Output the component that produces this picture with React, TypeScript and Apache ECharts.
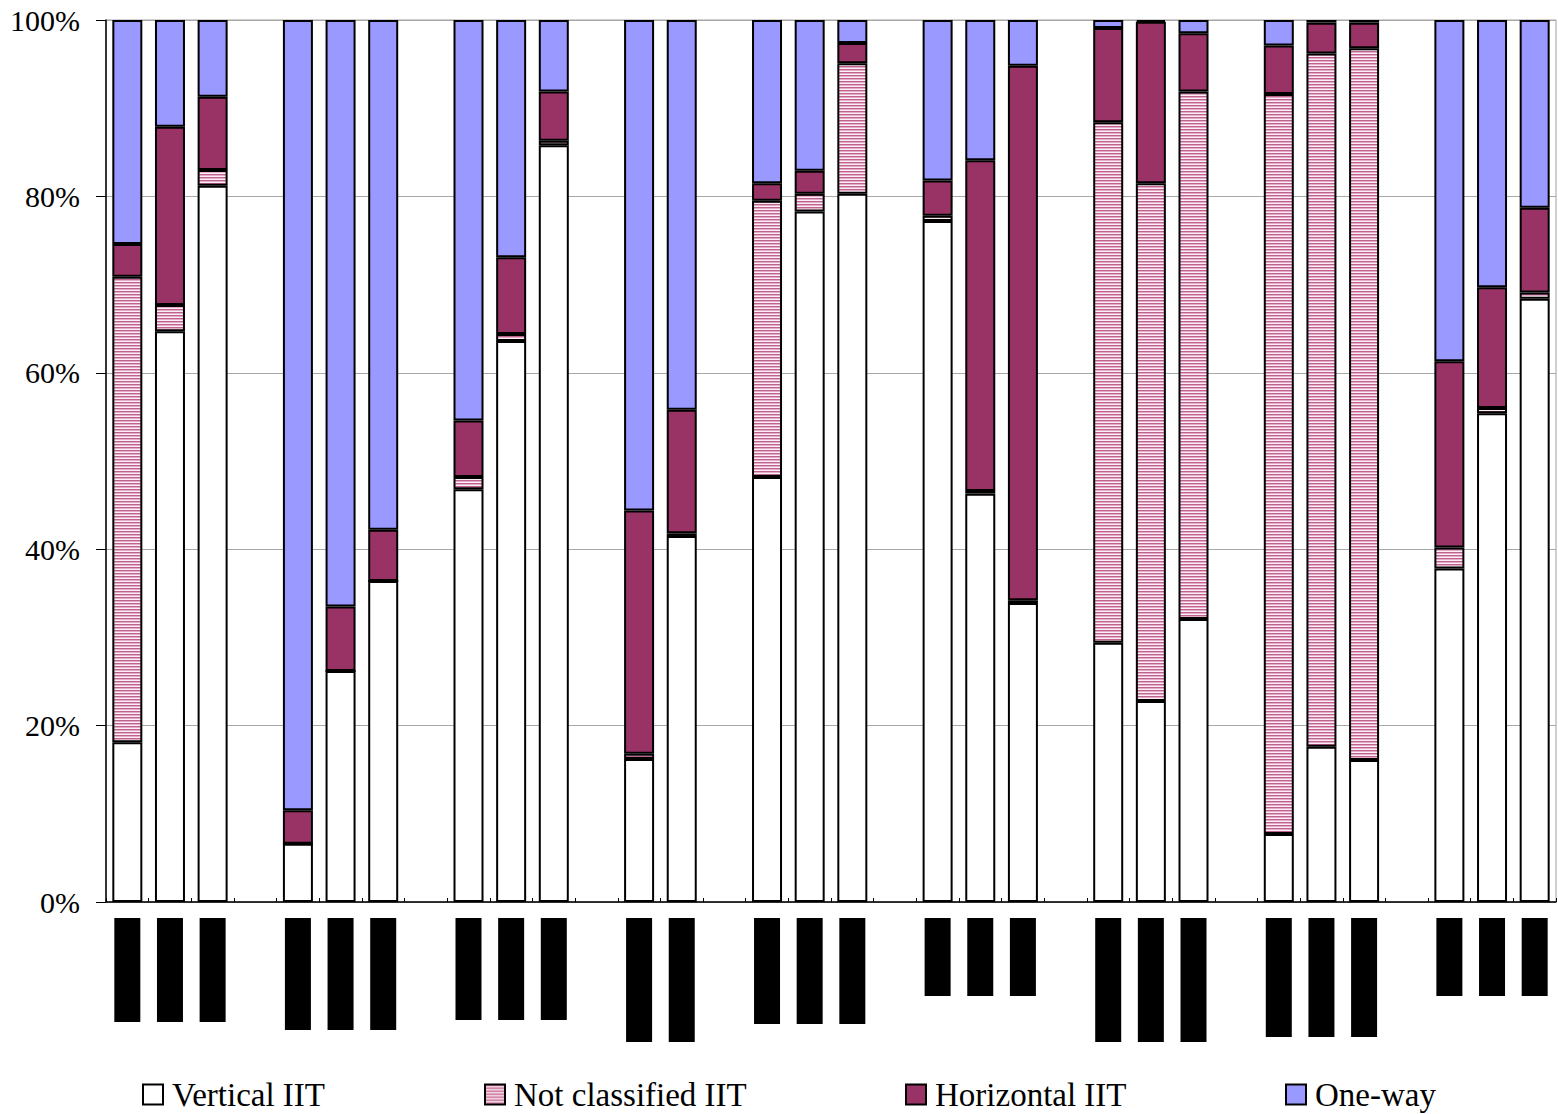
import React, { useEffect, useRef } from "react";
import * as echarts from "echarts";

// ---- data (percent shares, bottom to top) ----
const groupNames = ["G1", "G2", "G3", "G4", "G5", "G6", "G7", "G8", "G9"];
const barsPerGroup = [3, 3, 3, 2, 3, 3, 3, 3, 3];

const verticalIIT = [
  18.1, 64.7, 81.2,
  6.6, 26.2, 36.4,
  46.8, 63.6, 85.8,
  16.2, 41.5,
  48.2, 78.3, 80.3,
  77.2, 46.3, 33.9,
  29.4, 22.8, 32.1,
  7.7, 17.6, 16.1,
  37.8, 55.4, 68.4,
];
const notClassifiedIIT = [
  52.8, 3.0, 1.8,
  0, 0, 0,
  1.4, 0.8, 0.5,
  0.6, 0.3,
  31.3, 2.0, 14.8,
  0.6, 0.3, 0.3,
  59.0, 58.7, 59.8,
  83.9, 78.6, 80.7,
  2.4, 0.6, 0.7,
];
const horizontalIIT = [
  3.7, 20.2, 8.3,
  3.8, 7.3, 5.8,
  6.4, 8.7, 5.6,
  27.6, 14.0,
  2.0, 2.6, 2.3,
  4.0, 37.5, 60.6,
  10.7, 18.3, 6.6,
  5.5, 3.5, 2.9,
  21.1, 13.7, 9.6,
];
const oneWay = [
  25.4, 12.1, 8.7,
  89.6, 66.5, 57.8,
  45.4, 26.9, 8.1,
  55.6, 44.2,
  18.5, 17.1, 2.6,
  18.2, 15.9, 5.2,
  0.9, 0.2, 1.5,
  2.9, 0.3, 0.3,
  38.7, 30.3, 21.3,
];
const yTicks = [0, 20, 40, 60, 80, 100];
const legendNames = ["Vertical IIT", "Not classified IIT", "Horizontal IIT", "One-way"];

// ---- style constants (redacted label boxes, legend positions) ----
const redactHeights = [104, 112, 102, 124, 106, 78, 124, 119, 78];
const legendLefts = [142, 484, 905, 1285];

const SERIF = "Liberation Serif";

function makeStripePattern() {
  const c = document.createElement("canvas");
  c.width = 4;
  c.height = 3;
  const ctx = c.getContext("2d")!;
  const rows = ["#c0628f", "#e4adc7", "#fbeef4"];
  rows.forEach((col, i) => {
    ctx.fillStyle = col;
    ctx.fillRect(0, i, 4, 1);
  });
  return { image: c, repeat: "repeat", imageWidth: 4, imageHeight: 3 } as any;
}

export default function App() {
  const ref = useRef<HTMLDivElement>(null);

  useEffect(() => {
    if (!ref.current) return;
    const chart = echarts.init(ref.current, undefined, { renderer: "svg" });

    // build slots: bars with gap slot between groups
    const slots: { name: string; group: number; bar: number }[] = [];
    let k = 0;
    barsPerGroup.forEach((n, g) => {
      for (let b = 0; b < n; b++) {
        slots.push({ name: `${groupNames[g]}-${b + 1}`, group: g, bar: k });
        k++;
      }
      if (g < barsPerGroup.length - 1) slots.push({ name: `gap-${g}`, group: g, bar: -1 });
    });
    const cats = slots.map((s) => s.name);
    const pick = (arr: number[]) => slots.map((s) => (s.bar < 0 ? "-" : arr[s.bar]));

    const rich: Record<string, any> = {};
    redactHeights.forEach((h, g) => {
      rich["g" + g] = { backgroundColor: "#000", width: 26, height: h, fontSize: 1, lineHeight: h };
    });

    const stripe = makeStripePattern();
    const colors = ["#ffffff", stripe, "#993366", "#9999ff"];
    const seriesData = [verticalIIT, notClassifiedIIT, horizontalIIT, oneWay];

    chart.setOption({
      animation: false,
      backgroundColor: "#fff",
      grid: {
        left: 106,
        right: 2,
        top: 20,
        bottom: 212,
        show: true,
        borderColor: "#a0a0a0",
        borderWidth: 1,
      },
      legend: legendNames.map((nm, i) => ({
        data: [nm],
        left: legendLefts[i],
        top: 1078,
        padding: 0,
        itemWidth: 20,
        itemHeight: 20,
        icon: "rect",
        itemStyle: { borderColor: "#000", borderWidth: 2 },
        selectedMode: false,
        textStyle: {
          fontFamily: SERIF,
          fontSize: 33,
          color: "#000",
          padding: [0, 0, 0, 4],
        },
      })),
      xAxis: {
        type: "category",
        data: cats,
        boundaryGap: true,
        axisLine: { lineStyle: { color: "#000", width: 1.5 } },
        axisTick: { show: true, inside: true, length: 4, interval: 0, lineStyle: { color: "#000" } },
        axisLabel: {
          interval: 0,
          margin: 16,
          formatter: (_v: string, idx: number) => {
            const s = slots[idx];
            if (!s || s.bar < 0) return "";
            return `{g${s.group}| }`;
          },
          rich,
        },
        splitLine: { show: false },
      },
      yAxis: {
        type: "value",
        min: yTicks[0],
        max: yTicks[yTicks.length - 1],
        interval: yTicks[1] - yTicks[0],
        axisLine: { show: true, lineStyle: { color: "#000", width: 1.5 } },
        axisTick: { show: true, length: 10, lineStyle: { color: "#000" } },
        axisLabel: {
          formatter: "{value}%",
          fontFamily: SERIF,
          fontSize: 30,
          color: "#000",
          margin: 26,
        },
        splitLine: { show: true, lineStyle: { color: "#a8a8a8", width: 1 } },
      },
      series: legendNames.map((nm, i) => ({
        name: nm,
        type: "bar",
        stack: "total",
        barWidth: 30,
        data: pick(seriesData[i]),
        itemStyle: { color: colors[i], borderColor: "#000", borderWidth: 2 },
        emphasis: { disabled: true },
      })),
    });

    return () => chart.dispose();
  }, []);

  return (
    <div
      ref={ref}
      style={{ position: "absolute", left: 0, top: 0, width: 1558, height: 1114 }}
    />
  );
}
